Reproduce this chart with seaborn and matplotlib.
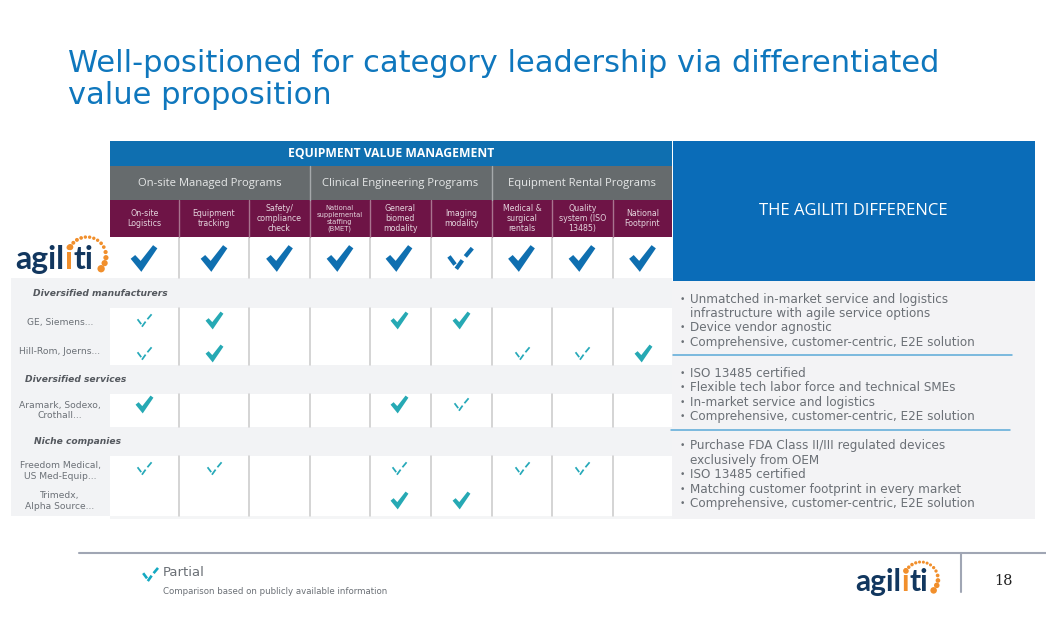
import numpy as np
import pandas as pd
import matplotlib
matplotlib.use("Agg")
import matplotlib.pyplot as plt
from matplotlib.path import Path
from matplotlib.patches import Rectangle
import seaborn as sns

# ==========================================
# DATA
# ==========================================
title_lines = ["Well-positioned for category leadership via differentiated", "value proposition"]
groups = ["On-site Managed Programs", "Clinical Engineering Programs", "Equipment Rental Programs"]
capabilities = ["On-site\nLogistics", "Equipment\ntracking", "Safety/\ncompliance\ncheck",
                "National\nsupplemental\nstaffing\n(BMET)", "General\nbiomed\nmodality", "Imaging\nmodality",
                "Medical &\nsurgical\nrentals", "Quality\nsystem (ISO\n13485)", "National\nFootprint"]
row_names = ["Agiliti", "GE, Siemens...", "Hill-Rom, Joerns...", "Aramark, Sodexo,\nCrothall...",
             "Freedom Medical,\nUS Med-Equip...", "Trimedx,\nAlpha Source..."]
section_names = ["Diversified manufacturers", "Diversified services", "Niche companies"]

# 2 = full, 1 = partial, 0 = nothing
agiliti_row = [2, 2, 2, 2, 2, 1, 2, 2, 2]
ge_row = [1, 2, 0, 0, 2, 2, 0, 0, 0]
hillrom_row = [1, 2, 0, 0, 0, 0, 1, 1, 2]
aramark_row = [2, 0, 0, 0, 2, 1, 0, 0, 0]
freedom_row = [1, 1, 0, 0, 1, 0, 1, 1, 0]
trimedx_row = [0, 0, 0, 0, 2, 2, 0, 0, 0]

diff_block_1 = ["Unmatched in-market service and logistics\ninfrastructure with agile service options",
                "Device vendor agnostic", "Comprehensive, customer-centric, E2E solution"]
diff_block_2 = ["ISO 13485 certified", "Flexible tech labor force and technical SMEs",
                "In-market service and logistics", "Comprehensive, customer-centric, E2E solution"]
diff_block_3 = ["Purchase FDA Class II/III regulated devices\nexclusively from OEM", "ISO 13485 certified",
                "Matching customer footprint in every market", "Comprehensive, customer-centric, E2E solution"]

# ==========================================
# LAYOUT (pixels of the slide)
# ==========================================
col_edges = [110, 179, 248.5, 309.5, 370, 430.7, 491.7, 552.3, 612.7, 672]
col_centers = [144, 214, 279.5, 340, 399, 460.5, 521.5, 582, 642.5]
row_centers = [258.5, 320, 353, 404, 468, 500]
row_label_y = [0, 322.5, 351.7, 410.5, 471, 501]
section_bands = [(278, 308), (365, 394), (427, 456)]
section_x = [100.5, 76, 77]
section_y = [293, 380, 441.5]
LINE = 14.45

BLUE = "#0f6fb0"
GREY_TXT = "#6b7076"
BAND = "#f2f3f5"
NAVY = "#12375f"
ORANGE = "#f18f2c"

sns.set_theme(style="white")
plt.rcParams['font.family'] = ['DejaVu Sans']

fig = plt.figure(figsize=(10.46, 6.35), dpi=100)
ax = fig.add_axes([0, 0, 1, 1])
ax.set_xlim(0, 1046)
ax.set_ylim(635, 0)
ax.set_axis_off()
ax.set_autoscale_on(False)


def box(x0, y0, x1, y1, color, z=1):
    ax.add_patch(Rectangle((x0, y0), x1 - x0, y1 - y0, facecolor=color, edgecolor='none', zorder=z))


def logo(x, baseline, size, dots_cx, dots_cy, radius):
    # the word is set in three pieces so the one orange "i" can be coloured
    renderer = fig.canvas.get_renderer()
    for piece, color in [("agil", NAVY), ("i", ORANGE), ("ti", NAVY)]:
        t = ax.text(x, baseline, piece, color=color, fontsize=size, family="Lato", fontweight="bold",
                    ha="left", va="baseline", zorder=5)
        x += t.get_window_extent(renderer).width + 0.6
    angles = np.radians([152, 136, 122, 108, 95, 82, 69, 56, 42, 28, 12, -5, -22, -42])
    areas = np.array([20, 8, 8, 7, 6, 6, 6, 6, 7, 7, 9, 14, 20, 28]) * (radius / 19) ** 2
    ax.scatter(dots_cx + radius * np.cos(angles), dots_cy - radius * np.sin(angles), s=areas,
               color=ORANGE, linewidths=0, zorder=5)


# ==========================================
# TABLE BACKGROUND
# ==========================================
box(11, 278, 110, 515.5, BAND)
box(110, 516, 672, 518.5, "#f4f5f6")
for y0, y1 in section_bands:
    box(110, y0, 672, y1, BAND)
box(110, 141, 672, 166, BLUE)
box(110, 166, 672, 200, "#666b6d")
box(110, 200, 672, 237, "#6e1446")
box(673, 141, 1035, 281, "#0a6cb8")
box(672, 281, 1035, 518.5, "#f3f3f5")

for x in col_edges[1:-1]:
    ax.plot([x, x], [200, 237], color="#a9748f", lw=1, zorder=2)
    for y0, y1 in [(238, 278), (308, 365), (394, 427), (456, 516)]:
        ax.plot([x, x], [y0, y1], color="#c9c9c9", lw=1.1, zorder=2)
for x in [col_edges[3], col_edges[6]]:
    ax.plot([x, x], [166, 200], color="#a5a9ab", lw=1, zorder=2)

# ==========================================
# HEADERS
# ==========================================
ax.text(68, 63, title_lines[0], color="#0f77bd", fontsize=22, va="center", ha="left")
ax.text(68, 96, title_lines[1], color="#0f77bd", fontsize=22, va="center", ha="left")

ax.text(391.5, 153.5, "EQUIPMENT VALUE MANAGEMENT", color="white", fontsize=8.7, fontweight="bold",
        family="Open Sans", ha="center", va="center", zorder=3)
for i, name in enumerate(groups):
    x0, x1 = col_edges[i * 3], col_edges[i * 3 + 3]
    ax.text((x0 + x1) / 2, 183.5, name, color="#e6e8e8", fontsize=8.1, family="Open Sans",
            ha="center", va="center", zorder=3)
for i, name in enumerate(capabilities):
    small = name.count("\n") == 3
    ax.text((col_edges[i] + col_edges[i + 1]) / 2, 218.5, name, color="#e3d3dc",
            fontsize=4.9 if small else 5.7, linespacing=1.12, ha="center", va="center", zorder=3)
ax.text(853, 211, "THE AGILITI DIFFERENCE", color="white", fontsize=12, family="Open Sans",
        ha="center", va="center", zorder=3)

# ==========================================
# ROW LABELS
# ==========================================
for name, y in zip(row_names[1:], row_label_y[1:]):
    ax.text(60, y, name, color=GREY_TXT, fontsize=6.6, linespacing=1.25, ha="center", va="center", zorder=3)
for name, x, y in zip(section_names, section_x, section_y):
    ax.text(x, y, name, color="#54585e", fontsize=6.6, fontweight="bold", fontstyle="italic",
            ha="center", va="center", zorder=3)

# ==========================================
# CHECK MARKS
# ==========================================
full_check = Path([(-1.0, -0.02), (-0.66, 0.26), (-0.25, -0.18), (0.68, 1.0), (1.0, 0.76), (-0.20, -1.0), (-1.0, -0.02)],
                  [Path.MOVETO, Path.LINETO, Path.LINETO, Path.LINETO, Path.LINETO, Path.LINETO, Path.CLOSEPOLY])


def dashed_check(w):
    # three short strokes along the shape of the check
    strokes = [((-0.95, 0.17), (-0.45, -0.50)), ((-0.35, -0.85), (0.15, -0.15)), ((0.40, 0.17), (0.97, 0.85))]
    verts, codes = [], []
    for (x0, y0), (x1, y1) in strokes:
        dx, dy = x1 - x0, y1 - y0
        n = np.hypot(dx, dy)
        nx, ny = -dy / n * w, dx / n * w
        verts += [(x0 + nx, y0 + ny), (x1 + nx, y1 + ny), (x1 - nx, y1 - ny), (x0 - nx, y0 - ny), (x0 + nx, y0 + ny)]
        codes += [Path.MOVETO, Path.LINETO, Path.LINETO, Path.LINETO, Path.CLOSEPOLY]
    return Path(verts, codes)


partial_thin = dashed_check(0.12)
partial_bold = dashed_check(0.17)

all_rows = [agiliti_row, ge_row, hillrom_row, aramark_row, freedom_row, trimedx_row]
records = []
for r, values in enumerate(all_rows):
    for c, value in enumerate(values):
        if value:
            records.append({"x": col_centers[c], "y": row_centers[r], "status": value, "top": r == 0})
marks = pd.DataFrame(records)
top_marks = marks[marks["top"]]
rest_marks = marks[~marks["top"]]

sns.scatterplot(data=top_marks, x="x", y="y", style="status", markers={2: full_check, 1: partial_bold},
                color=BLUE, s=370, linewidth=0, legend=False, ax=ax, zorder=4)
sns.scatterplot(data=rest_marks[rest_marks["status"] == 2], x="x", y="y", marker=full_check,
                color="#26a9b4", s=165, linewidth=0, legend=False, ax=ax, zorder=4)
sns.scatterplot(data=rest_marks[rest_marks["status"] == 1], x="x", y="y", marker=partial_thin,
                color="#26a9b9", s=125, linewidth=0, legend=False, ax=ax, zorder=4)

# ==========================================
# RIGHT PANEL
# ==========================================
ys_start = [299, 373.3, 446]
for block, y in zip([diff_block_1, diff_block_2, diff_block_3], ys_start):
    for item in block:
        ax.text(680, y, "•", color=GREY_TXT, fontsize=6.5, ha="left", va="center", zorder=3)
        for line in item.split("\n"):
            ax.text(689.5, y, line, color=GREY_TXT, fontsize=8.67, ha="left", va="center", zorder=3)
            y += LINE
ax.plot([673, 1012], [355, 355], color="#5aa9d8", lw=1.1, zorder=3)
ax.plot([671, 1010], [429.5, 429.5], color="#5aa9d8", lw=1.1, zorder=3)

# ==========================================
# LOGOS AND FOOTER
# ==========================================
logo(15, 269, 23, 87, 256, 19)
logo(855, 591, 21.5, 921, 579, 17)

ax.plot([79, 1046], [553, 553], color="#a0a6b4", lw=1.5, zorder=2)
ax.plot([960.7, 960.7], [553, 592], color="#a0a6b4", lw=1.5, zorder=2)
ax.text(1004, 581, "18", color="#222222", fontsize=10.5, family="DejaVu Serif", ha="center", va="center")

sns.scatterplot(x=[150], y=[573.5], marker=partial_bold, color="#14a9c1", s=150, linewidth=0, legend=False,
                ax=ax, zorder=4)
ax.text(163, 572, "Partial", color="#6b7076", fontsize=9.5, ha="left", va="center")
ax.text(163, 591.5, "Comparison based on publicly available information", color="#6b7076", fontsize=6.25,
        ha="left", va="center")

ax.set_xlim(0, 1046)
ax.set_ylim(635, 0)
ax.set_xlabel("")
ax.set_ylabel("")
fig.savefig("out.png", dpi=100)
